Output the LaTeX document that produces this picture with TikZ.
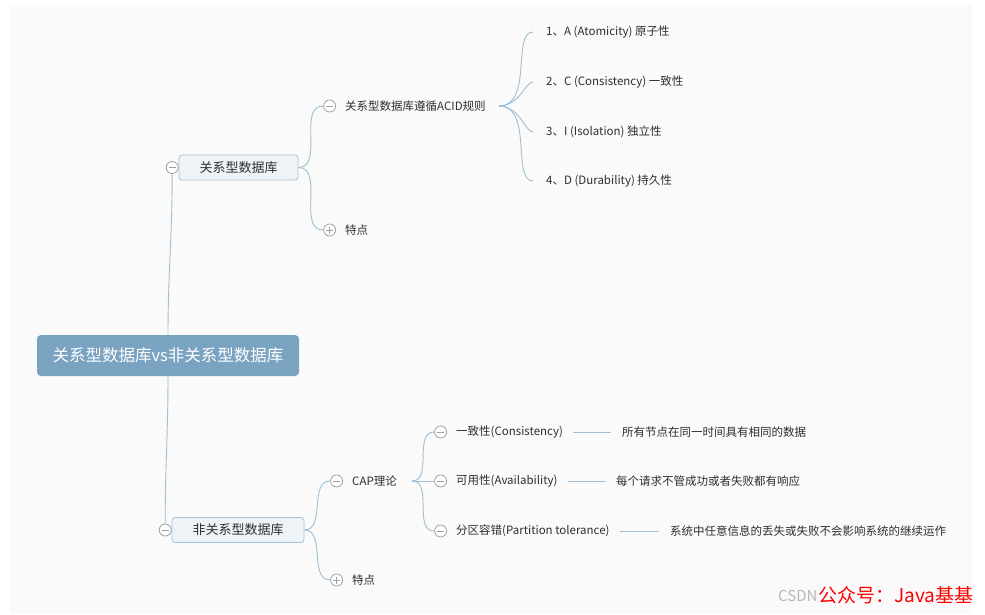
\documentclass[tikz,border=0pt]{standalone}
\usepackage{fontspec}
\setmainfont{Noto Sans CJK SC}
\usepackage{xcolor}
\usetikzlibrary{positioning}

\definecolor{canvas}{HTML}{FAFAFA}
\definecolor{rootblue}{HTML}{7AA2C1}
\definecolor{boxline}{HTML}{A8C3D8}
\definecolor{boxfill}{HTML}{EEF3F8}
\definecolor{linkblue}{HTML}{9EBFD5}
\definecolor{foldgray}{HTML}{A0A0A0}
\definecolor{txt}{HTML}{2E2E2E}

\tikzset{
  rootbox/.style={rectangle, rounded corners=4pt, fill=rootblue, text=white,
    font=\fontsize{16.5}{18}\selectfont, minimum width=262pt, minimum height=41pt},
  topic/.style={rectangle, rounded corners=3pt, draw=boxline, fill=boxfill, text=txt,
    line width=0.8pt, font=\fontsize{13}{15}\selectfont, minimum height=25pt},
  leaf/.style={inner sep=0pt, text=txt, font=\fontsize{11.5}{13}\selectfont, anchor=west},
  knob/.style={circle, draw=foldgray, fill=white, minimum size=12pt, inner sep=0pt, line width=0.8pt},
  foldminus/.style={knob, path picture={
    \draw[foldgray, line width=0.8pt] ([xshift=-3.5pt]path picture bounding box.center)
      -- ([xshift=3.5pt]path picture bounding box.center);}},
  foldplus/.style={knob, path picture={
    \draw[foldgray, line width=0.8pt] ([xshift=-3.5pt]path picture bounding box.center)
      -- ([xshift=3.5pt]path picture bounding box.center)
      ([yshift=-3.5pt]path picture bounding box.center)
      -- ([yshift=3.5pt]path picture bounding box.center);}},
  link/.style={draw=linkblue, line width=0.9pt},
}

\begin{document}
\begin{tikzpicture}[x=1pt, y=-1pt]
  \useasboundingbox (0,0) rectangle (985,614);
  \fill[white] (0,0) rectangle (985,614);
  \fill[canvas] (10,5) rectangle (972,614);

  % centre topic and the two main branches
  \node[rootbox] (root) at (168,355.5) {关系型数据库vs非关系型数据库};
  \node[topic, minimum width=119pt] (rel) at (238.5,167.5) {关系型数据库};
  \node[foldminus, left=0pt of rel] (relfold) {};
  \node[topic, minimum width=132pt] (nonrel) at (238,530) {非关系型数据库};
  \node[foldminus, left=0pt of nonrel] (nonrelfold) {};

  % relational side
  \node[leaf] (acid) at (345,106) {关系型数据库遵循ACID规则};
  \node[foldminus, left=9pt of acid] (acidfold) {};
  \node[leaf] (relfeat) at (345,230) {特点};
  \node[foldplus, left=9pt of relfeat] (relfeatfold) {};
  \coordinate[right=13pt of acid] (acidfork);

  \node[leaf] (atom) at (546,32) {1、A (Atomicity) 原子性};
  \node[leaf] (consis) at (546,82) {2、C (Consistency) 一致性};
  \node[leaf] (isol) at (546,132) {3、I (Isolation) 独立性};
  \node[leaf] (durab) at (546,181) {4、D (Durability) 持久性};

  % non-relational side
  \node[leaf] (cap) at (352,481) {CAP理论};
  \node[foldminus, left=9pt of cap] (capfold) {};
  \node[leaf] (nrfeat) at (352,580) {特点};
  \node[foldplus, left=9pt of nrfeat] (nrfeatfold) {};
  \coordinate[right=15pt of cap] (capfork);

  \node[leaf] (capc) at (456,432) {一致性(Consistency)};
  \node[foldminus, left=9pt of capc] (capcfold) {};
  \node[leaf] (capa) at (456,481) {可用性(Availability)};
  \node[foldminus, left=9pt of capa] (capafold) {};
  \node[leaf] (capp) at (456,531) {分区容错(Partition tolerance)};
  \node[foldminus, left=9pt of capp] (cappfold) {};

  \node[leaf] (capcnote) at (622,432) {所有节点在同一时间具有相同的数据};
  \node[leaf] (capanote) at (616,481) {每个请求不管成功或者失败都有响应};
  \node[leaf] (cappnote) at (670,531) {系统中任意信息的丢失或失败不会影响系统的继续运作};

  % connectors
  \draw[link] (root.north) to[out=90, in=-90] (relfold.south);
  \draw[link] (root.south) to[out=-90, in=90] (nonrelfold.north);
  \draw[link] (rel.east) to[out=0, in=180] (acidfold.west);
  \draw[link] (rel.east) to[out=0, in=180] (relfeatfold.west);
  \draw[link] (nonrel.east) to[out=0, in=180] (capfold.west);
  \draw[link] (nonrel.east) to[out=0, in=180] (nrfeatfold.west);
  \foreach \item in {atom, consis, isol, durab}
    \draw[link, shorten >=13pt] (acidfork) to[out=0, in=180] (\item.west);
  \foreach \item in {capcfold, capafold, cappfold}
    \draw[link] (capfork) to[out=0, in=180] (\item.west);
  \draw[link, shorten <=10pt, shorten >=11pt] (capc.east) -- (capcnote.west);
  \draw[link, shorten <=10pt, shorten >=10pt] (capa.east) -- (capanote.west);
  \draw[link, shorten <=10pt, shorten >=11pt] (capp.east) -- (cappnote.west);

  % watermark
  \node[leaf, text=gray!55, font=\fontsize{15}{17}\selectfont] (csdn) at (778,596) {CSDN};
  \node[leaf, text=red, font=\fontsize{19}{21}\selectfont] (wechat) at (818,595) {公众号：Java基基};
\end{tikzpicture}
\end{document}
